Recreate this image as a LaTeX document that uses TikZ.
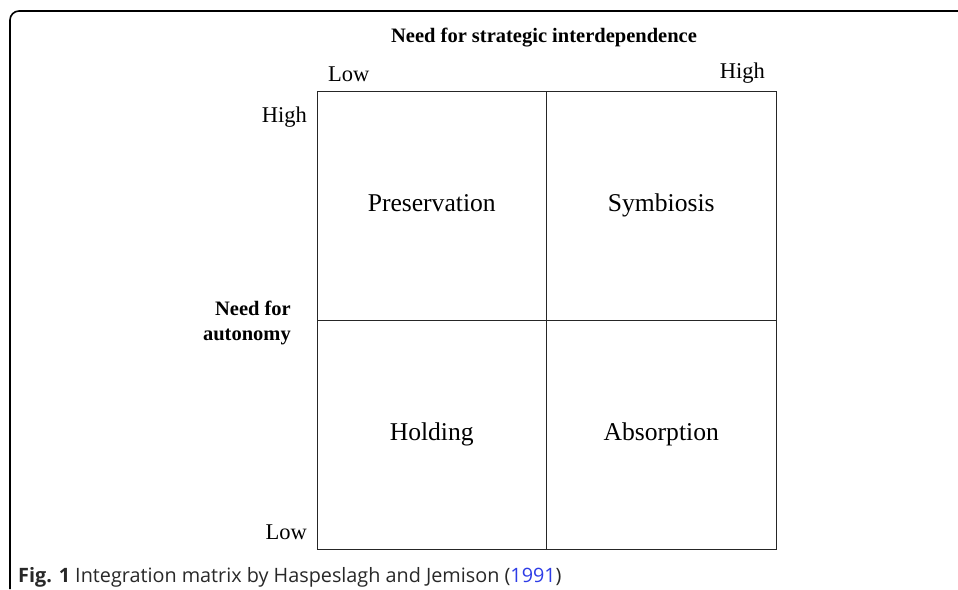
\documentclass[tikz,border=0pt]{standalone}
\usepackage{fontspec}
\setmainfont{Liberation Serif}
\newfontfamily\capfont{Open Sans}
\usetikzlibrary{positioning}
\definecolor{linkblue}{RGB}{45,60,230}
\definecolor{captext}{RGB}{40,40,40}

\tikzset{
  cell/.style={draw=black!85, line width=0.9pt, minimum width=229.5pt,
    minimum height=229pt, inner sep=0pt, outer sep=0pt,
    text height=17pt, text depth=5.5pt,
    font=\fontsize{25.6}{30}\selectfont},
  level/.style={inner sep=0pt, font=\fontsize{22.5}{27}\selectfont},
  axis/.style={inner sep=0pt, font=\fontsize{20.5}{25}\selectfont\bfseries}
}

\begin{document}
\begin{tikzpicture}[x=1pt, y=-1pt]
          \useasboundingbox (0,0) rectangle (958,589);
          \draw[line width=1.6pt, rounded corners=9pt] (10,589) -- (10,11) -- (960,11);
          % matrix cells
          \node[cell] (pres) at (431.75,205.5) {Preservation};
          \node[cell, right=0pt of pres] (symb) {Symbiosis};
          \node[cell, below=0pt of pres] (hold) {Holding};
          \node[cell, right=0pt of hold] (absr) {Absorption};
          % axis labels
          \node[axis] (interdep) at (544,37.5) {Need for strategic interdependence};
          \node[level, anchor=west] (lowx) at (328,74) {Low};
          \node[level, anchor=east] (highx) at (765,73) {High};
          \node[level, anchor=east] (highy) at (307,117) {High};
          \node[level, anchor=east] (lowy) at (307,532) {Low};
          \node[axis, align=right, anchor=east] (auton) at (291,322.5) {Need for\\autonomy};
          % caption
          \node[anchor=base west, inner sep=0pt, text=captext,
            font=\capfont\fontsize{19.8}{23}\selectfont] (capt) at (18,582)
            {\textbf{Fig. 1} Integration matrix by Haspeslagh and Jemison (\textcolor{linkblue}{1991})};
        \end{tikzpicture}
\end{document}
